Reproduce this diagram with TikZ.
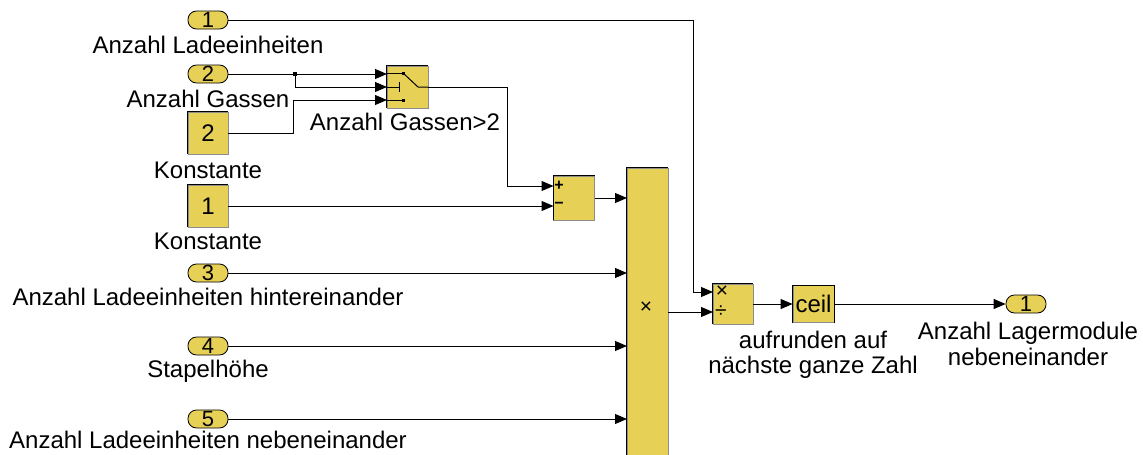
\documentclass[tikz,border=0pt]{standalone}
\usepackage{fontspec}
\setmainfont{Liberation Sans}
\usetikzlibrary{arrows.meta}
\definecolor{simyel}{RGB}{231,208,86}
\begin{document}
\begin{tikzpicture}[x=1pt,y=-1pt,
 port/.style={draw=black, fill=simyel, rounded corners=8.5pt, minimum width=40pt, minimum height=18pt, inner sep=0pt, font=\fontsize{22}{22}\selectfont, line width=0.8pt},
 sblock/.style={draw=black!45, fill=simyel, inner sep=0pt, line width=0.8pt},
 lbl/.style={inner sep=0pt, font=\fontsize{24}{25.5}\selectfont, align=center},
 wire/.style={line width=1pt},
 arr/.style={wire, -{Triangle[length=12pt,width=10pt]}},
 sym/.style={inner sep=0pt, font=\fontsize{21}{21}\selectfont},
 edge/.style={draw=black, line width=0.8pt}
]
\useasboundingbox (0,0) rectangle (1143,455);
\clip (0,0) rectangle (1143,455);

% ports and constants
\node[port] (in1) at (208,20) {1};
\node[port] (in2) at (208,74) {2};
\node[sblock, minimum width=40pt, minimum height=42pt, font=\fontsize{24}{24}\selectfont] (c2) at (208,133) {2};
\node[sblock, minimum width=40pt, minimum height=42pt, font=\fontsize{24}{24}\selectfont] (c1) at (208,206) {1};
\node[port] (in3) at (208,273) {3};
\node[port] (in4) at (208,346) {4};
\node[port] (in5) at (208,419) {5};
\node[port] (out1) at (1026,304) {1};

% labels
\node[lbl] (l1) at (208,45) {Anzahl Ladeeinheiten};
\node[lbl] (l2) at (208,99) {Anzahl Gassen};
\node[lbl] (l3) at (208,170) {Konstante};
\node[lbl] (l4) at (208,241) {Konstante};
\node[lbl] (l5) at (208,297) {Anzahl Ladeeinheiten hintereinander};
\node[lbl] (l6) at (208,371) {Stapelhöhe};
\node[lbl] (l7) at (208,440) {Anzahl Ladeeinheiten nebeneinander};
\node[lbl] (l8) at (405,122) {Anzahl Gassen>2};
\node[lbl] (l9) at (813,355) {aufrunden auf\\nächste ganze Zahl};
\node[lbl] (l10) at (1028,344) {Anzahl Lagermodule\\nebeneinander};

% blocks
\node[sblock, minimum width=41pt, minimum height=42pt] (sw) at (407.5,87) {};
\node[sblock, minimum width=41pt, minimum height=44pt] (sum) at (574,198) {};
\node[sblock, minimum width=41pt, minimum height=292pt] (prod) at (647.5,314) {};
\node[sblock, minimum width=40pt, minimum height=40pt] (div) at (733,304) {};
\node[sblock, minimum width=41pt, minimum height=37pt, font=\fontsize{24}{24}\selectfont] (ceil) at (813.5,304) {ceil};

% dark left/top edges
\foreach \b in {c1,c2,sw,sum,div,ceil}{
  \draw[edge] (\b.south west) -- (\b.north west) -- (\b.north east);
}
\draw[edge] (prod.south west) -- (prod.north west) -- (prod.north east);
\draw[edge] (ceil.north east) -- (ceil.south east);

% switch internals
\draw[wire] (387,73) -- (403,73);
\fill (401.5,71.5) rectangle (404.5,74.5);
\draw[wire] (387,87) -- (399,87);
\draw[wire] (399,82) -- (399,92);
\draw[wire] (387,100) -- (403,100);
\fill (401.5,98.5) rectangle (404.5,101.5);
\draw[wire] (403,73) -- (418,87) -- (sw.east);

% symbols
\node[sym, font=\bfseries\fontsize{16}{16}\selectfont] (s1) at (559,186) {+};
\node[sym, font=\bfseries\fontsize{16}{16}\selectfont] (s2) at (559,205) {−};
\node[sym] (s3) at (722,292) {×};
\node[sym] (s4) at (721,312) {÷};
\node[sym] (s5) at (646,308) {×};

% port coordinates
\coordinate (swin1) at (387,74);
\coordinate (swin2) at (387,87);
\coordinate (swin3) at (387,100);
\coordinate (sumin1) at (553.5,186);
\coordinate (sumin2) at (553.5,206);
\coordinate (prodin1) at (627,198);
\coordinate (prodin2) at (627,273);
\coordinate (prodin3) at (627,346);
\coordinate (prodin4) at (627,419);
\coordinate (prodout) at (668,312);
\coordinate (divin1) at (713,292);
\coordinate (divin2) at (713,312);
\coordinate (jn) at (295,74);

% wires
\draw[arr] (in1.east) -| (693,292) -- (divin1);
\draw[arr] (in2.east) -- (swin1);
\fill ([shift={(-2,-2)}]jn) rectangle ([shift={(2,2)}]jn);
\draw[arr] (jn) |- (swin2);
\draw[arr] (c2.east) -| (293,100) -- (swin3);
\draw[arr] (sw.east) -| (507,186) -- (sumin1);
\draw[arr] (c1.east) -- (sumin2);
\draw[arr] (sum.east) -- (prodin1);
\draw[arr] (in3.east) -- (prodin2);
\draw[arr] (in4.east) -- (prodin3);
\draw[arr] (in5.east) -- (prodin4);
\draw[arr] (prodout) -- (divin2);
\draw[arr] (div.east) -- (ceil.west);
\draw[arr] (ceil.east) -- (out1.west);
\end{tikzpicture}
\end{document}
